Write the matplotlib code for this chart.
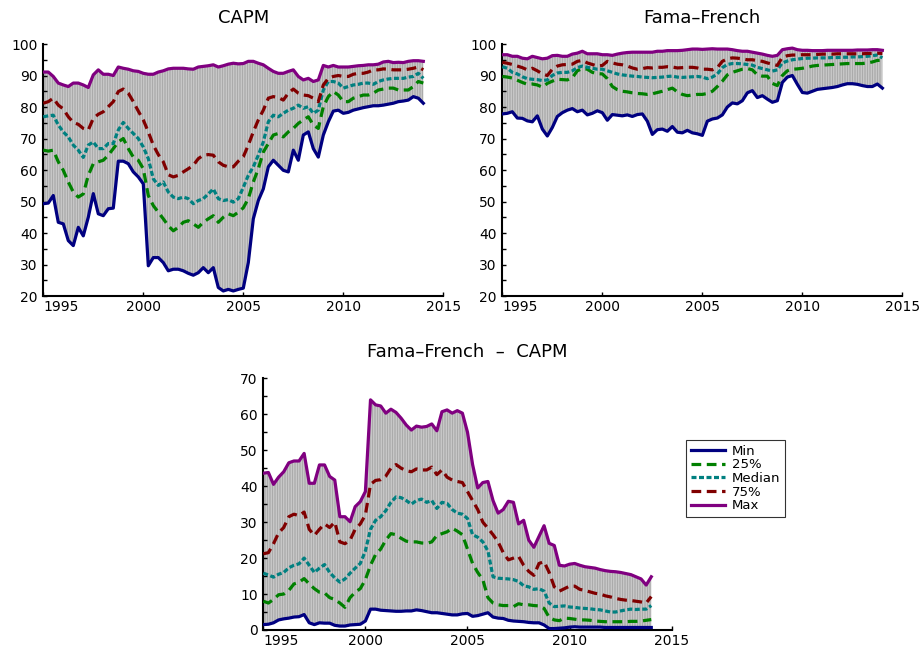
import numpy as np
import matplotlib
matplotlib.use("Agg")
import matplotlib.pyplot as plt
from matplotlib.ticker import MultipleLocator

plt.rcParams["font.family"] = ["DejaVu Sans"]
plt.rcParams["hatch.linewidth"] = 0.5
plt.rcParams["lines.scale_dashes"] = False

# quarterly observation dates (decimal years), 1995Q1 .. 2014Q1
dates = 1995 + 0.25 * np.arange(77)

# ---------------- CAPM ----------------
capm_max = [91.1, 91.1, 89.7, 87.6, 87.0, 86.5, 87.6, 87.6, 87.0, 86.2, 90.2, 91.8,
            90.4, 90.4, 90.0, 92.7, 92.3, 92.0, 91.5, 91.3, 90.7, 90.4, 90.4, 91.1,
            91.5, 92.1, 92.3, 92.3, 92.3, 92.1, 92.0, 92.7, 92.9, 93.1, 93.4, 92.7,
            93.1, 93.6, 93.9, 93.7, 93.8, 94.5, 94.5, 93.9, 93.4, 92.3, 91.3, 90.7,
            90.7, 91.3, 91.8, 89.7, 88.6, 89.1, 88.1, 88.6, 93.2, 92.7, 93.2, 92.7,
            92.7, 92.7, 92.9, 93.1, 93.2, 93.4, 93.4, 93.6, 94.3, 94.5, 94.1, 94.2,
            94.1, 94.5, 94.7, 94.7, 94.5]
capm_q75 = [81.2, 81.7, 82.8, 80.6, 79.4, 76.9, 75.1, 74.5, 73.2, 72.7, 76.4, 77.7,
            78.5, 80.1, 81.7, 84.9, 85.7, 84.4, 81.7, 78.7, 75.9, 72.1, 67.9, 64.9,
            62.6, 58.5, 57.8, 58.3, 59.4, 60.4, 61.5, 63.6, 64.7, 64.9, 64.7, 62.6,
            61.5, 61.0, 61.0, 62.8, 64.2, 67.9, 72.1, 75.9, 79.0, 82.8, 83.3, 83.0,
            82.2, 84.4, 85.7, 84.4, 83.8, 83.6, 82.8, 81.7, 87.0, 89.1, 89.7, 90.0,
            89.7, 89.7, 90.4, 90.7, 90.7, 91.1, 91.8, 91.8, 92.1, 92.0, 91.8, 91.8,
            91.8, 92.0, 92.3, 92.7, 91.8]
capm_med = [76.9, 77.2, 77.4, 74.3, 72.1, 70.5, 67.9, 66.3, 64.0, 67.9, 68.9, 66.8,
            66.8, 68.4, 68.4, 72.7, 75.1, 73.2, 71.6, 70.0, 67.3, 63.6, 57.2, 55.1,
            56.2, 53.0, 51.4, 50.9, 51.4, 50.9, 49.3, 50.3, 50.9, 52.4, 54.0, 50.9,
            50.3, 50.6, 49.8, 50.9, 54.5, 58.3, 61.0, 64.7, 68.9, 75.3, 77.4, 76.9,
            78.0, 79.0, 79.6, 80.6, 79.6, 80.1, 78.0, 79.0, 85.4, 88.1, 88.1, 87.6,
            86.0, 86.5, 87.0, 87.2, 87.6, 87.6, 87.2, 88.1, 88.6, 88.9, 89.1, 89.1,
            89.1, 89.5, 89.7, 90.7, 89.1]
capm_q25 = [66.3, 66.0, 66.3, 62.6, 59.9, 56.2, 53.0, 51.4, 52.4, 58.3, 62.0, 62.6,
            63.1, 64.7, 66.8, 68.9, 70.0, 66.8, 64.1, 63.1, 60.4, 51.9, 48.7, 46.6,
            44.5, 42.3, 40.7, 41.8, 43.4, 43.9, 42.9, 41.8, 43.4, 44.5, 45.5, 43.4,
            45.0, 46.1, 45.5, 46.6, 48.0, 50.9, 56.2, 60.4, 65.7, 68.4, 71.1, 71.6,
            70.5, 72.1, 73.2, 74.8, 75.9, 76.9, 74.3, 73.2, 80.1, 83.3, 84.9, 83.8,
            81.7, 81.7, 82.8, 83.3, 83.8, 83.8, 84.4, 85.4, 85.7, 86.0, 86.0, 85.4,
            85.4, 85.4, 86.5, 88.1, 87.6]
capm_min = [49.3, 49.5, 51.9, 43.4, 42.9, 37.6, 36.0, 41.8, 39.1, 45.0, 52.5, 46.1,
            45.5, 47.7, 47.9, 62.8, 62.8, 62.0, 59.4, 57.8, 55.6, 29.6, 32.2, 32.2,
            30.6, 28.0, 28.5, 28.5, 28.0, 27.2, 26.6, 27.4, 29.0, 27.4, 29.0, 22.7,
            21.6, 22.1, 21.6, 22.1, 22.5, 30.6, 44.5, 50.3, 54.0, 61.0, 63.1, 61.5,
            59.9, 59.4, 66.3, 63.1, 71.1, 72.1, 66.8, 64.1, 71.1, 75.3, 78.7, 79.0,
            78.0, 78.3, 79.0, 79.4, 79.8, 80.1, 80.4, 80.4, 80.6, 80.9, 81.2, 81.7,
            81.9, 82.2, 83.3, 82.8, 81.2]

# ---------------- Fama-French ----------------
ff_max = [96.6, 96.6, 96.1, 96.1, 95.5, 95.3, 96.1, 95.7, 95.3, 95.5, 96.3, 96.4,
          96.1, 96.1, 96.8, 97.1, 97.7, 96.9, 96.9, 96.9, 96.6, 96.6, 96.4, 96.8,
          97.1, 97.3, 97.4, 97.4, 97.4, 97.4, 97.4, 97.7, 97.7, 97.9, 97.9, 97.9,
          98.0, 98.2, 98.4, 98.4, 98.3, 98.4, 98.5, 98.4, 98.4, 98.4, 98.2, 97.9,
          97.7, 97.7, 97.4, 97.1, 96.8, 96.4, 96.1, 96.4, 98.2, 98.5, 98.7, 98.2,
          98.0, 98.0, 97.9, 97.9, 97.9, 98.0, 98.0, 98.0, 98.0, 98.0, 98.0, 98.1,
          98.1, 98.1, 98.2, 98.2, 98.0]
ff_q75 = [94.2, 93.9, 93.5, 93.0, 92.5, 91.8, 92.3, 91.5, 90.5, 90.0, 92.0, 93.0,
          93.4, 93.5, 93.6, 94.5, 94.8, 94.0, 93.5, 93.0, 93.2, 94.5, 94.0, 93.6,
          93.4, 93.0, 92.4, 92.0, 92.2, 92.5, 92.4, 92.6, 92.6, 92.8, 92.7, 92.4,
          92.5, 92.6, 92.6, 92.4, 92.0, 92.0, 91.8, 92.5, 94.5, 95.3, 95.6, 95.5,
          95.3, 95.0, 95.0, 94.7, 94.5, 94.0, 93.6, 93.2, 95.8, 96.3, 96.5, 96.5,
          96.6, 96.6, 96.6, 96.7, 96.8, 96.8, 96.8, 96.9, 96.9, 96.9, 96.9, 96.9,
          96.9, 97.0, 97.0, 97.1, 97.0]
ff_med = [92.8, 92.3, 91.0, 90.5, 89.6, 89.0, 88.8, 88.7, 88.4, 88.6, 90.0, 90.8,
          91.0, 91.0, 91.5, 92.5, 93.0, 92.6, 92.3, 92.0, 92.0, 91.5, 91.0, 90.5,
          90.2, 90.0, 89.8, 89.7, 89.5, 89.4, 89.3, 89.4, 89.5, 89.7, 89.8, 89.5,
          89.4, 89.5, 89.6, 89.7, 89.5, 89.0, 89.5, 90.5, 92.5, 93.5, 93.8, 93.8,
          93.7, 93.5, 93.3, 92.6, 92.2, 91.8, 91.4, 91.8, 94.0, 94.6, 95.0, 95.2,
          95.4, 95.5, 95.5, 95.6, 95.6, 95.6, 95.7, 95.7, 95.8, 95.8, 95.9, 95.9,
          96.0, 96.1, 96.3, 96.5, 95.6]
ff_q25 = [89.7, 89.5, 89.2, 88.5, 87.8, 87.2, 87.3, 87.0, 86.3, 87.5, 88.2, 88.8,
          88.7, 88.6, 89.3, 91.5, 92.2, 92.0, 91.0, 90.6, 90.5, 89.0, 86.5, 85.5,
          85.0, 84.8, 84.5, 84.3, 84.2, 84.0, 84.2, 84.6, 85.0, 85.5, 86.0, 84.8,
          84.0, 83.6, 83.8, 84.0, 84.0, 84.3, 85.0, 86.5, 88.2, 90.2, 91.0, 91.5,
          92.0, 92.2, 91.8, 90.2, 89.8, 89.8, 87.5, 86.8, 90.0, 91.5, 92.0, 92.1,
          92.3, 92.6, 93.0, 93.2, 93.3, 93.4, 93.5, 93.6, 93.7, 93.8, 93.8, 93.8,
          93.8, 94.0, 94.3, 94.8, 94.8]
ff_min = [77.8, 78.0, 78.5, 76.5, 76.4, 75.6, 75.3, 77.2, 73.0, 70.8, 73.5, 77.0,
          78.2, 79.0, 79.5, 78.5, 79.0, 77.5, 78.0, 78.8, 78.2, 75.8, 77.6, 77.4,
          77.2, 77.5, 77.0, 77.6, 77.8, 75.5, 71.3, 72.8, 73.0, 72.3, 73.8, 72.0,
          71.8, 72.6, 71.8, 71.5, 71.0, 75.5, 76.2, 76.5, 77.5, 80.0, 81.3, 81.0,
          82.0, 84.5, 85.2, 83.0, 83.6, 82.5, 81.5, 82.0, 87.8, 89.5, 90.0, 87.2,
          84.6, 84.4, 85.0, 85.6, 85.8, 86.0, 86.2, 86.5, 87.0, 87.4, 87.4, 87.2,
          86.8, 86.5, 86.5, 87.3, 86.0]

# ---------------- Fama-French minus CAPM ----------------
diff_max = [43.6, 43.8, 40.5, 42.5, 44.0, 46.5, 47.0, 47.0, 49.1, 40.8, 40.8, 45.9,
            45.9, 42.7, 41.7, 31.5, 31.5, 30.1, 34.3, 35.7, 38.5, 64.0, 62.6, 62.3,
            60.3, 61.4, 60.5, 58.9, 57.0, 55.6, 56.7, 56.4, 56.6, 57.3, 55.4, 60.7,
            61.2, 60.3, 61.0, 60.3, 55.0, 46.0, 39.5, 41.0, 41.3, 36.0, 32.5, 33.5,
            35.8, 35.5, 29.5, 30.5, 25.0, 23.0, 26.0, 29.0, 24.1, 23.5, 18.0, 17.8,
            18.3, 18.5, 18.0, 17.6, 17.4, 17.2, 16.8, 16.5, 16.3, 16.2, 16.0, 15.7,
            15.4, 14.8, 14.2, 12.5, 14.8]
diff_q75 = [21.2, 21.5, 24.0, 27.0, 28.5, 31.5, 32.2, 31.8, 32.8, 28.0, 26.3, 28.0,
            29.5, 28.5, 30.0, 24.5, 24.0, 25.0, 28.0, 29.5, 32.0, 40.5, 41.6, 41.8,
            42.8, 45.0, 46.0, 45.0, 44.3, 44.0, 44.8, 44.5, 44.5, 45.3, 43.2, 44.5,
            42.5, 41.7, 41.3, 41.0, 38.5, 36.0, 33.5, 30.0, 28.3, 26.5, 24.5, 21.5,
            19.5, 20.0, 20.5, 18.0, 16.3, 15.2, 18.5, 19.0, 16.0, 12.0, 10.8, 11.5,
            12.2, 12.2, 11.3, 11.0, 10.6, 10.2, 10.0, 9.5, 9.2, 8.8, 8.5, 8.3,
            8.2, 8.0, 7.8, 7.5, 9.3]
diff_med = [15.8, 15.3, 14.7, 15.5, 16.0, 17.3, 18.0, 18.4, 20.0, 18.0, 16.0, 17.2,
            18.2, 16.0, 14.5, 13.3, 14.2, 15.8, 17.2, 18.5, 22.0, 28.0, 30.5, 31.5,
            33.2, 35.5, 37.0, 36.8, 36.0, 35.0, 36.0, 36.4, 35.5, 36.0, 33.8, 35.5,
            35.2, 33.5, 32.5, 32.2, 31.0, 26.5, 25.8, 24.5, 22.0, 14.8, 14.4, 14.3,
            14.2, 14.0, 13.5, 12.3, 12.0, 11.3, 11.5, 10.8, 7.5, 6.5, 6.6, 6.7,
            6.4, 6.3, 6.1, 6.0, 5.9, 5.7, 5.6, 5.3, 5.0, 5.0, 5.3, 5.6,
            5.8, 5.7, 5.8, 5.8, 6.8]
diff_q25 = [8.0, 7.5, 8.5, 9.8, 10.0, 11.0, 12.8, 13.3, 14.3, 12.8, 11.5, 10.5,
            10.3, 9.0, 8.5, 7.5, 6.3, 9.0, 10.5, 11.5, 14.0, 18.0, 21.0, 22.5,
            25.0, 26.8, 26.5, 25.5, 24.7, 24.5, 24.5, 24.2, 24.1, 24.5, 26.3, 26.8,
            27.3, 28.3, 27.5, 26.5, 22.5, 18.5, 16.0, 14.0, 9.0, 7.5, 7.0, 6.8,
            6.8, 6.5, 7.3, 7.0, 7.0, 6.8, 6.7, 6.0, 3.5, 2.8, 2.6, 3.3,
            3.2, 3.0, 2.8, 2.8, 2.7, 2.5, 2.4, 2.3, 2.3, 2.3, 2.3, 2.3,
            2.4, 2.4, 2.5, 2.7, 2.9]
diff_min = [1.5, 1.6, 2.0, 2.8, 3.1, 3.3, 3.6, 3.7, 4.3, 2.0, 1.5, 2.0,
            1.9, 1.9, 1.3, 1.1, 1.1, 1.4, 1.5, 1.6, 2.5, 5.8, 5.8, 5.5,
            5.4, 5.3, 5.2, 5.2, 5.3, 5.3, 5.6, 5.4, 5.1, 4.8, 4.8, 4.6,
            4.4, 4.2, 4.2, 4.5, 4.6, 3.8, 4.0, 4.4, 4.8, 3.6, 3.3, 3.2,
            2.7, 2.5, 2.4, 2.3, 2.1, 2.0, 2.0, 1.4, 0.4, 0.4, 0.5, 0.6,
            0.8, 0.9, 0.8, 0.8, 0.8, 0.8, 0.8, 0.7, 0.7, 0.7, 0.7, 0.7,
            0.7, 0.7, 0.7, 0.7, 0.7]

year_ticks = [1995, 2000, 2005, 2010, 2015]

C_MIN, C_Q25, C_MED, C_Q75, C_MAX = "#000080", "#008000", "#008080", "#800000", "#800080"
LW = 2.3


def draw_panel(ax, lo, q25, med, q75, hi, ylim, title):
    # min-to-max range shown as a band of thin vertical grey strokes
    ax.fill_between(dates, lo, hi, facecolor="#d2d2d2", edgecolor="#9a9a9a",
                    hatch="|" * 10, linewidth=0, zorder=1)
    ax.plot(dates, lo, color=C_MIN, lw=LW, label="Min", zorder=4)
    ax.plot(dates, q25, color=C_Q25, lw=LW, dashes=(7, 4), label="25%", zorder=3)
    ax.plot(dates, med, color=C_MED, lw=LW, dashes=(3.6, 1.8), label="Median", zorder=3)
    ax.plot(dates, q75, color=C_Q75, lw=LW, dashes=(7, 4), label="75%", zorder=3)
    ax.plot(dates, hi, color=C_MAX, lw=LW, label="Max", zorder=4)

    ax.set_xlim(1995, 2015)
    ax.set_ylim(*ylim)
    ax.set_xticks(year_ticks)
    ax.set_xticklabels([str(y) for y in year_ticks])
    ax.get_xticklabels()[0].set_horizontalalignment("left")
    ax.yaxis.set_major_locator(MultipleLocator(10))
    ax.yaxis.set_minor_locator(MultipleLocator(5))
    for side in ("top", "right"):
        ax.spines[side].set_visible(False)
    for side in ("left", "bottom"):
        ax.spines[side].set_linewidth(1.5)
    ax.tick_params(axis="both", which="major", direction="in", length=3, width=1,
                   labelsize=10, pad=3)
    ax.tick_params(axis="y", which="minor", direction="in", length=3, width=1)
    ax.tick_params(axis="y", which="major", pad=4)
    ax.set_title(title, fontsize=13, pad=15)


fig = plt.figure(figsize=(9.19, 6.54), dpi=100)
ax1 = fig.add_axes([0.0471, 0.5474, 0.4353, 0.3853])
ax2 = fig.add_axes([0.5466, 0.5474, 0.4353, 0.3853])
ax3 = fig.add_axes([0.2865, 0.0367, 0.4444, 0.3849])

draw_panel(ax1, capm_min, capm_q25, capm_med, capm_q75, capm_max, (20, 100), "CAPM")
draw_panel(ax2, ff_min, ff_q25, ff_med, ff_q75, ff_max, (20, 100), "Fama\u2013French")
draw_panel(ax3, diff_min, diff_q25, diff_med, diff_q75, diff_max, (0, 70),
           "Fama\u2013French  \u2013  CAPM")

handles, labels = ax3.get_legend_handles_labels()
leg = fig.legend(handles, labels, loc="upper left", bbox_to_anchor=(0.7465, 0.3272),
                 bbox_transform=fig.transFigure, fontsize=9.5, frameon=True,
                 fancybox=False, edgecolor="black", handlelength=2.6,
                 handletextpad=0.5, labelspacing=0.05, borderpad=0.35,
                 borderaxespad=0)
leg.get_frame().set_linewidth(0.8)

fig.savefig("out.png", dpi=100)
